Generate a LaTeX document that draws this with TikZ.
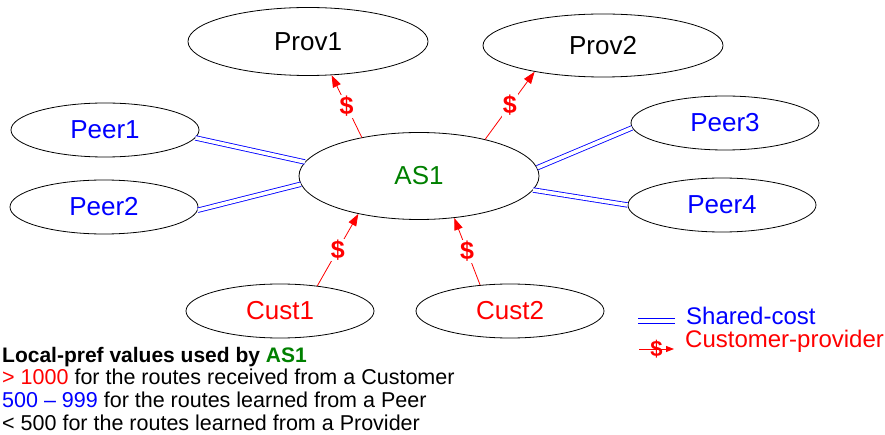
\documentclass[tikz,border=0pt]{standalone}
\usepackage{fontspec}
\setmainfont{Liberation Sans}
\usetikzlibrary{arrows.meta,shapes.geometric}
\definecolor{asgreen}{RGB}{0,128,0}
\begin{document}
\begin{tikzpicture}[x=1pt,y=-1pt,
  asnode/.style={ellipse, draw=black, line width=0.8pt, inner sep=0pt,
    minimum width=188pt, minimum height=54pt, font=\fontsize{26}{30}\selectfont},
  shared/.style={draw=blue, line width=0.85pt, double=white, double distance=3.6pt},
  cp/.style={draw=red, line width=0.8pt, -{Triangle[length=12pt,width=8.5pt]}},
  dollar/.style={fill=white, text=red, inner sep=1pt, font=\fontsize{25}{25}\selectfont\bfseries},
  legtext/.style={anchor=base west, inner sep=0pt, font=\fontsize{24}{28}\selectfont},
  prefline/.style={anchor=base west, inner sep=0pt, font=\fontsize{21.5}{24}\selectfont}]
\useasboundingbox (0,0) rectangle (885,435);

% autonomous systems
\node[asnode, minimum width=240pt, minimum height=68pt] (prov1) at (308,41.5) {Prov1};
\node[asnode, minimum width=240pt, minimum height=63pt] (prov2) at (603,45.5) {Prov2};
\node[asnode, text=blue] (peer1) at (105,130) {Peer1};
\node[asnode, text=blue] (peer2) at (104,207) {Peer2};
\node[asnode, text=blue] (peer3) at (725,123) {Peer3};
\node[asnode, text=blue] (peer4) at (722,205) {Peer4};
\node[asnode, text=asgreen, minimum width=240pt, minimum height=87pt] (as1) at (419,176) {AS1};
\node[asnode, text=red] (cust1) at (280,311) {Cust1};
\node[asnode, text=red] (cust2) at (510,311) {Cust2};

% shared-cost peering links
\draw[shared] (peer1.-5) -- (as1.173.7);
\draw[shared] (peer2.-2) -- (as1.184.2);
\draw[shared] (peer3.183.8) -- (as1.4.9);
\draw[shared] (peer4.180) -- (as1.-7.2);

% customer-provider links
\draw[cp] (as1.146.5) -- node[dollar] {\$} (prov1.-55.6);
\draw[cp] (as1.29) -- node[dollar] {\$} (prov2.-159.3);
\draw[cp] (cust1.34) -- node[dollar] {\$} (as1.212.6);
\draw[cp] (cust2.139.6) -- node[dollar] {\$} (as1.-50.9);

% legend
\coordinate (s1) at (638,321);
\coordinate (s2) at (675,321);
\draw[shared] (s1) -- (s2);
\node[legtext, text=blue] (sharedlbl) at (686,324) {Shared-cost};
\coordinate (c1) at (639,349);
\coordinate (c2) at (674,349);
\draw[draw=red, line width=0.8pt, -{Triangle[length=8pt,width=6pt]}] (c1) -- node[text=red, inner sep=0pt, font=\fontsize{22}{22}\selectfont\bfseries] (cdollar) {\$} (c2);
\node[legtext, text=red] (cplbl) at (685,347) {Customer-provider};

% local-pref summary
\node[anchor=base west, inner sep=0pt, font=\fontsize{21}{24}\selectfont\bfseries] (title) at (2,362)
  {Local-pref values used by \textcolor{asgreen}{AS1}};
\node[prefline] (l1) at (2,384.5) {\textcolor{red}{> 1000} for the routes received from a Customer};
\node[prefline] (l2) at (2,407.5) {\textcolor{blue}{500 – 999} for the routes learned from a Peer};
\node[prefline] (l3) at (2,430) {< 500 for the routes learned from a Provider};
\end{tikzpicture}
\end{document}
